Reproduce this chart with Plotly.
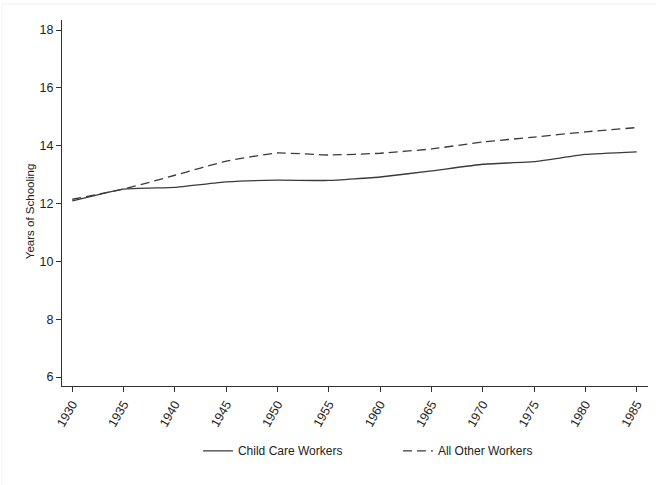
import plotly.graph_objects as go

years = [1930, 1935, 1940, 1945, 1950, 1955, 1960, 1965, 1970, 1975, 1980, 1985]
child_care = [12.09, 12.50, 12.56, 12.75, 12.81, 12.80, 12.92, 13.13, 13.36, 13.45, 13.70, 13.79]
all_other = [12.15, 12.50, 12.98, 13.47, 13.75, 13.68, 13.74, 13.89, 14.13, 14.30, 14.48, 14.63]
y_ticks = [6, 8, 10, 12, 14, 16, 18]

fig = go.Figure()
fig.add_trace(go.Scatter(x=years, y=child_care, mode="lines", name="Child Care Workers",
                         line=dict(color="#3a3a3a", width=1.3, shape="spline", smoothing=0.35)))
fig.add_trace(go.Scatter(x=years, y=all_other, mode="lines", name="All Other Workers",
                         line=dict(color="#3a3a3a", width=1.3, dash="9px,5px", shape="spline", smoothing=0.35)))

fig.update_layout(
    width=656, height=485,
    margin=dict(l=62, r=8, t=20, b=99, autoexpand=False),
    paper_bgcolor="white", plot_bgcolor="white",
    font=dict(family="Liberation Sans, Arial, sans-serif", size=12, color="#222"),
    showlegend=True,
    legend=dict(orientation="h", x=0.232, xanchor="left", y=-0.177, yanchor="middle",
                font=dict(size=12, color="#222"), entrywidth=155, entrywidthmode="pixels",
                tracegroupgap=0),
    xaxis=dict(range=[1929.0, 1986.1], tickvals=years, tickangle=-60, automargin=False,
               showline=True, linecolor="#333", linewidth=1.3, ticks="outside",
               ticklen=5, tickcolor="#333", showgrid=False, zeroline=False,
               tickfont=dict(size=12.5, color="#222")),
    yaxis=dict(range=[5.69, 18.35], tickvals=y_ticks, showline=True, linecolor="#333",
               linewidth=1.3, ticks="outside", ticklen=5, tickcolor="#333", automargin=False,
               showgrid=False, zeroline=False, tickfont=dict(size=12.5, color="#222")),
    annotations=[dict(text="Years of Schooling", xref="paper", yref="paper",
                      x=-0.0546, y=0.475, xanchor="center", yanchor="middle",
                      textangle=-90, showarrow=False, font=dict(size=11.5, color="#222"))],
    shapes=[dict(type="rect", xref="paper", yref="paper", x0=-0.1024, x1=1.05, y0=-0.4, y1=1.0437,
                 line=dict(color="#f0f0f0", width=1))],
)

fig.write_html("out.html", config={"displayModeBar": False},
               post_script="document.body.style.margin='0';document.body.style.padding='0';document.body.style.overflow='hidden';")
